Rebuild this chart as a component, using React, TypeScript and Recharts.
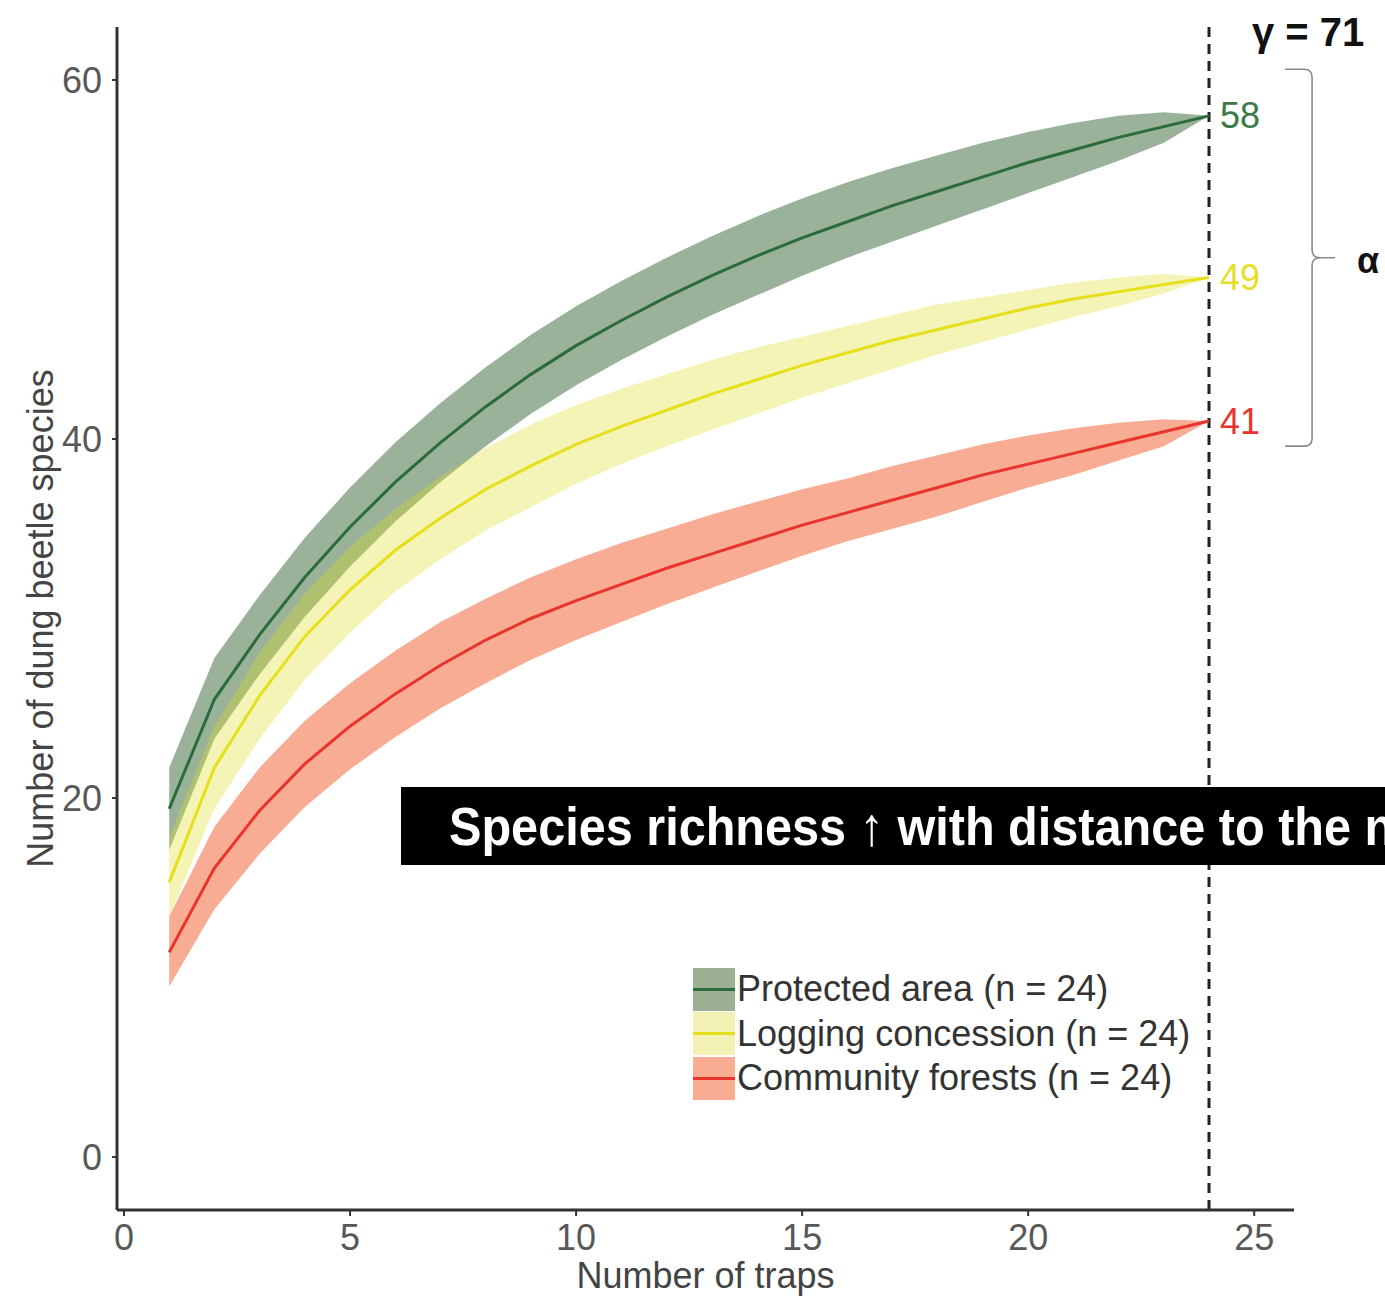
import {
  ComposedChart,
  Area,
  Line,
  XAxis,
  YAxis,
  Legend,
  ReferenceLine,
} from 'recharts';

const FONT = "'Liberation Sans', Arial, sans-serif";

// Number of traps (sample size) for the rarefaction curves
const TRAPS = [1, 2, 3, 4, 5, 6, 7, 8, 9, 10, 11, 12, 13, 14, 15, 16, 17, 18, 19, 20, 21, 22, 23, 24];

// Protected area
const PROTECTED_MEAN = [19.4, 25.5, 29.1, 32.3, 35.1, 37.6, 39.8, 41.8, 43.6, 45.2, 46.6, 47.9, 49.1, 50.2, 51.2, 52.1, 53.0, 53.8, 54.6, 55.4, 56.1, 56.8, 57.4, 58.0];
const PROTECTED_LOW = [17.1, 23.3, 26.9, 30.1, 32.9, 35.4, 37.6, 39.6, 41.4, 43.0, 44.4, 45.7, 46.9, 48.0, 49.1, 50.1, 51.0, 51.9, 52.8, 53.7, 54.6, 55.5, 56.5, 58.0];
const PROTECTED_HIGH = [21.7, 27.8, 31.3, 34.5, 37.3, 39.8, 42.0, 44.0, 45.8, 47.4, 48.8, 50.1, 51.3, 52.4, 53.4, 54.3, 55.1, 55.8, 56.5, 57.1, 57.6, 58.0, 58.2, 58.0];

// Logging concession
const LOGGING_MEAN = [15.3, 21.7, 25.7, 29.0, 31.6, 33.8, 35.6, 37.2, 38.5, 39.7, 40.7, 41.6, 42.5, 43.3, 44.1, 44.8, 45.5, 46.1, 46.7, 47.3, 47.8, 48.2, 48.6, 49.0];
const LOGGING_LOW = [13.4, 19.4, 23.3, 26.6, 29.2, 31.5, 33.3, 34.9, 36.2, 37.5, 38.6, 39.6, 40.5, 41.4, 42.3, 43.1, 43.9, 44.7, 45.4, 46.1, 46.8, 47.4, 48.1, 49.0];
const LOGGING_HIGH = [17.8, 24.0, 28.1, 31.4, 34.0, 36.1, 37.9, 39.5, 40.8, 41.9, 42.8, 43.6, 44.4, 45.1, 45.7, 46.3, 46.9, 47.5, 47.9, 48.3, 48.7, 49.0, 49.2, 49.0];

// Community forests
const COMMUNITY_MEAN = [11.4, 16.1, 19.3, 21.9, 24.0, 25.8, 27.4, 28.8, 30.0, 31.0, 31.9, 32.8, 33.6, 34.4, 35.2, 35.9, 36.6, 37.3, 38.0, 38.6, 39.2, 39.8, 40.4, 41.0];
const COMMUNITY_LOW = [9.5, 13.8, 16.9, 19.5, 21.6, 23.4, 25.0, 26.4, 27.7, 28.8, 29.8, 30.8, 31.7, 32.6, 33.5, 34.3, 35.0, 35.7, 36.5, 37.3, 38.0, 38.8, 39.6, 41.0];
const COMMUNITY_HIGH = [13.4, 18.4, 21.7, 24.3, 26.4, 28.2, 29.8, 31.1, 32.3, 33.3, 34.2, 35.0, 35.8, 36.5, 37.2, 37.8, 38.5, 39.1, 39.7, 40.2, 40.6, 40.9, 41.1, 41.0];

const X_TICKS = [0, 5, 10, 15, 20, 25];
const Y_TICKS = [0, 20, 40, 60];

const GAMMA_TEXT = 'γ = 71';
const ALPHA_TEXT = 'α';
const BANNER_TEXT = 'Species richness ↑ with distance to the n';

// Observed sample size (dashed line) and the alpha bracket span
const OBSERVED_TRAPS = 24;
const BRACE_X = 26.28;
const BRACE_TOP = 60.6;
const BRACE_BOTTOM = 39.6;

const SERIES = [
  { key: 'protected', name: 'Protected area (n = 24)', fill: '#336633', fillOpacity: 0.5, swatch: '#9aaf94', line: '#2c6b3a', text: '#3b7a48' },
  { key: 'logging', name: 'Logging concession (n = 24)', fill: '#dddd22', fillOpacity: 0.33, swatch: '#f3f2b4', line: '#e6df1c', text: '#e6df2a' },
  { key: 'community', name: 'Community forests (n = 24)', fill: '#f05a28', fillOpacity: 0.5, swatch: '#f8ad93', line: '#e8342c', text: '#e8342c' },
];

const chartData = TRAPS.map((x, i) => ({
  x,
  protected: PROTECTED_MEAN[i],
  protectedBand: [PROTECTED_LOW[i], PROTECTED_HIGH[i]],
  logging: LOGGING_MEAN[i],
  loggingBand: [LOGGING_LOW[i], LOGGING_HIGH[i]],
  community: COMMUNITY_MEAN[i],
  communityBand: [COMMUNITY_LOW[i], COMMUNITY_HIGH[i]],
}));

// Final value printed just right of the dashed line
function endLabel(color: string) {
  // eslint-disable-next-line @typescript-eslint/no-explicit-any
  return (props: any) => {
    const { x, y, value, index } = props;
    if (index !== TRAPS.length - 1) return null;
    return (
      <text x={x + 11} y={y} fill={color} fontSize={36} fontFamily={FONT} dominantBaseline="central">
        {Math.round(value)}
      </text>
    );
  };
}

function SeriesLegend() {
  return (
    <div style={{ fontFamily: FONT, fontSize: 36, color: '#333' }}>
      {SERIES.map((s) => (
        <div key={s.key} style={{ display: 'flex', alignItems: 'center', height: 44.5 }}>
          <span
            style={{
              position: 'relative',
              width: 42,
              height: 43,
              backgroundColor: s.swatch,
              marginRight: 2,
            }}
          >
            <span
              style={{
                position: 'absolute',
                left: 0,
                right: 0,
                top: 20,
                height: 3,
                backgroundColor: s.line,
              }}
            />
          </span>
          <span style={{ whiteSpace: 'nowrap' }}>{s.name}</span>
        </div>
      ))}
    </div>
  );
}

// Curly bracket grouping the three alpha values
// eslint-disable-next-line @typescript-eslint/no-explicit-any
function Brace(props: any) {
  const { x1, y1, y2 } = props;
  const x = x1;
  const mid = (y1 + y2) / 2;
  const d = [
    `M ${x - 27} ${y1} L ${x - 8} ${y1} Q ${x} ${y1} ${x} ${y1 + 8}`,
    `L ${x} ${mid - 8} Q ${x} ${mid} ${x + 8} ${mid} L ${x + 23} ${mid}`,
    `M ${x + 8} ${mid} Q ${x} ${mid} ${x} ${mid + 8}`,
    `L ${x} ${y2 - 8} Q ${x} ${y2} ${x - 8} ${y2} L ${x - 27} ${y2}`,
  ].join(' ');
  return (
    <g>
      <path d={d} fill="none" stroke="#8a8a8a" strokeWidth={1.6} />
      <text x={x + 45} y={mid + 3} fontSize={36} fontWeight="bold" fontFamily={FONT} fill="#111" dominantBaseline="central">
        {ALPHA_TEXT}
      </text>
    </g>
  );
}

export default function App() {
  return (
    <div
      style={{
        position: 'absolute',
        left: 0,
        top: 0,
        width: 1385,
        height: 1297,
        overflow: 'hidden',
        background: '#fff',
        fontFamily: FONT,
      }}
    >
      <ComposedChart
        width={1385}
        height={1297}
        data={chartData}
        margin={{ top: 27, right: 91, bottom: 0, left: 0 }}
      >
        <XAxis
          dataKey="x"
          type="number"
          domain={[-0.155, 25.88]}
          ticks={X_TICKS}
          allowDataOverflow
          height={87}
          axisLine={{ stroke: '#333', strokeWidth: 3 }}
          tickLine={{ stroke: '#333', strokeWidth: 2 }}
          tickSize={6}
          tickMargin={8}
          tick={{ fill: '#585858', fontSize: 36, fontFamily: FONT }}
          label={{
            // eslint-disable-next-line @typescript-eslint/no-explicit-any
            content: (p: any) => {
              const vb = p.viewBox || { x: 117, y: 1210, width: 1177, height: 87 };
              return (
                <text x={vb.x + vb.width / 2} y={vb.y + 78} textAnchor="middle" fill="#444" fontSize={36} fontFamily={FONT}>
                  Number of traps
                </text>
              );
            },
          }}
        />
        <YAxis
          type="number"
          domain={[-2.95, 62.95]}
          ticks={Y_TICKS}
          allowDataOverflow
          width={117}
          axisLine={{ stroke: '#333', strokeWidth: 3 }}
          tickLine={{ stroke: '#333', strokeWidth: 2 }}
          tickSize={5}
          tickMargin={10}
          tick={{ fill: '#585858', fontSize: 36, fontFamily: FONT }}
          label={{
            // eslint-disable-next-line @typescript-eslint/no-explicit-any
            content: (p: any) => {
              const vb = p.viewBox || { x: 0, y: 27, width: 117, height: 1183 };
              const cx = vb.x + 40;
              const cy = vb.y + vb.height / 2;
              return (
                <text
                  x={cx}
                  y={cy}
                  transform={`rotate(-90, ${cx}, ${cy})`}
                  textAnchor="middle"
                  dominantBaseline="central"
                  fill="#444"
                  fontSize={36}
                  fontFamily={FONT}
                >
                  Number of dung beetle species
                </text>
              );
            },
          }}
        />

        {/* confidence bands */}
        {SERIES.map((s) => (
          <Area
            key={`${s.key}Band`}
            type="linear"
            dataKey={`${s.key}Band`}
            fill={s.fill}
            fillOpacity={s.fillOpacity}
            stroke="none"
            isAnimationActive={false}
            legendType="none"
          />
        ))}

        <ReferenceLine
          x={OBSERVED_TRAPS}
          stroke="#222"
          strokeWidth={3}
          strokeDasharray="10 7"
          label={{
            // eslint-disable-next-line @typescript-eslint/no-explicit-any
            content: (p: any) => {
              const vb = p.viewBox || { x: 1209, y: 27 };
              return (
                <text x={vb.x + 43} y={vb.y + 5} fontSize={40} fontWeight="bold" fontFamily={FONT} fill="#111" dominantBaseline="central">
                  {GAMMA_TEXT}
                </text>
              );
            },
          }}
        />

        {/* rarefaction means */}
        {SERIES.map((s) => (
          <Line
            key={s.key}
            type="linear"
            dataKey={s.key}
            stroke={s.line}
            strokeWidth={3}
            dot={false}
            isAnimationActive={false}
            label={endLabel(s.text)}
          />
        ))}

        <ReferenceLine
          segment={[
            { x: BRACE_X, y: BRACE_TOP },
            { x: BRACE_X, y: BRACE_BOTTOM },
          ]}
          ifOverflow="visible"
          shape={Brace}
        />

        <Legend
          layout="vertical"
          align="center"
          verticalAlign="middle"
          content={<SeriesLegend />}
          wrapperStyle={{ left: 693, top: 967, width: 'auto' }}
        />
      </ComposedChart>

      <div
        style={{
          position: 'absolute',
          left: 401,
          top: 787,
          width: 984,
          height: 78,
          background: '#000',
          color: '#fff',
          fontFamily: FONT,
          fontWeight: 'bold',
          fontSize: 54,
          lineHeight: '78px',
          paddingLeft: 48,
          whiteSpace: 'nowrap',
          overflow: 'hidden',
          boxSizing: 'border-box',
        }}
      >
        <span style={{ display: 'inline-block', transform: 'scaleX(0.9)', transformOrigin: 'left center' }}>
          {BANNER_TEXT}
        </span>
      </div>
    </div>
  );
}
